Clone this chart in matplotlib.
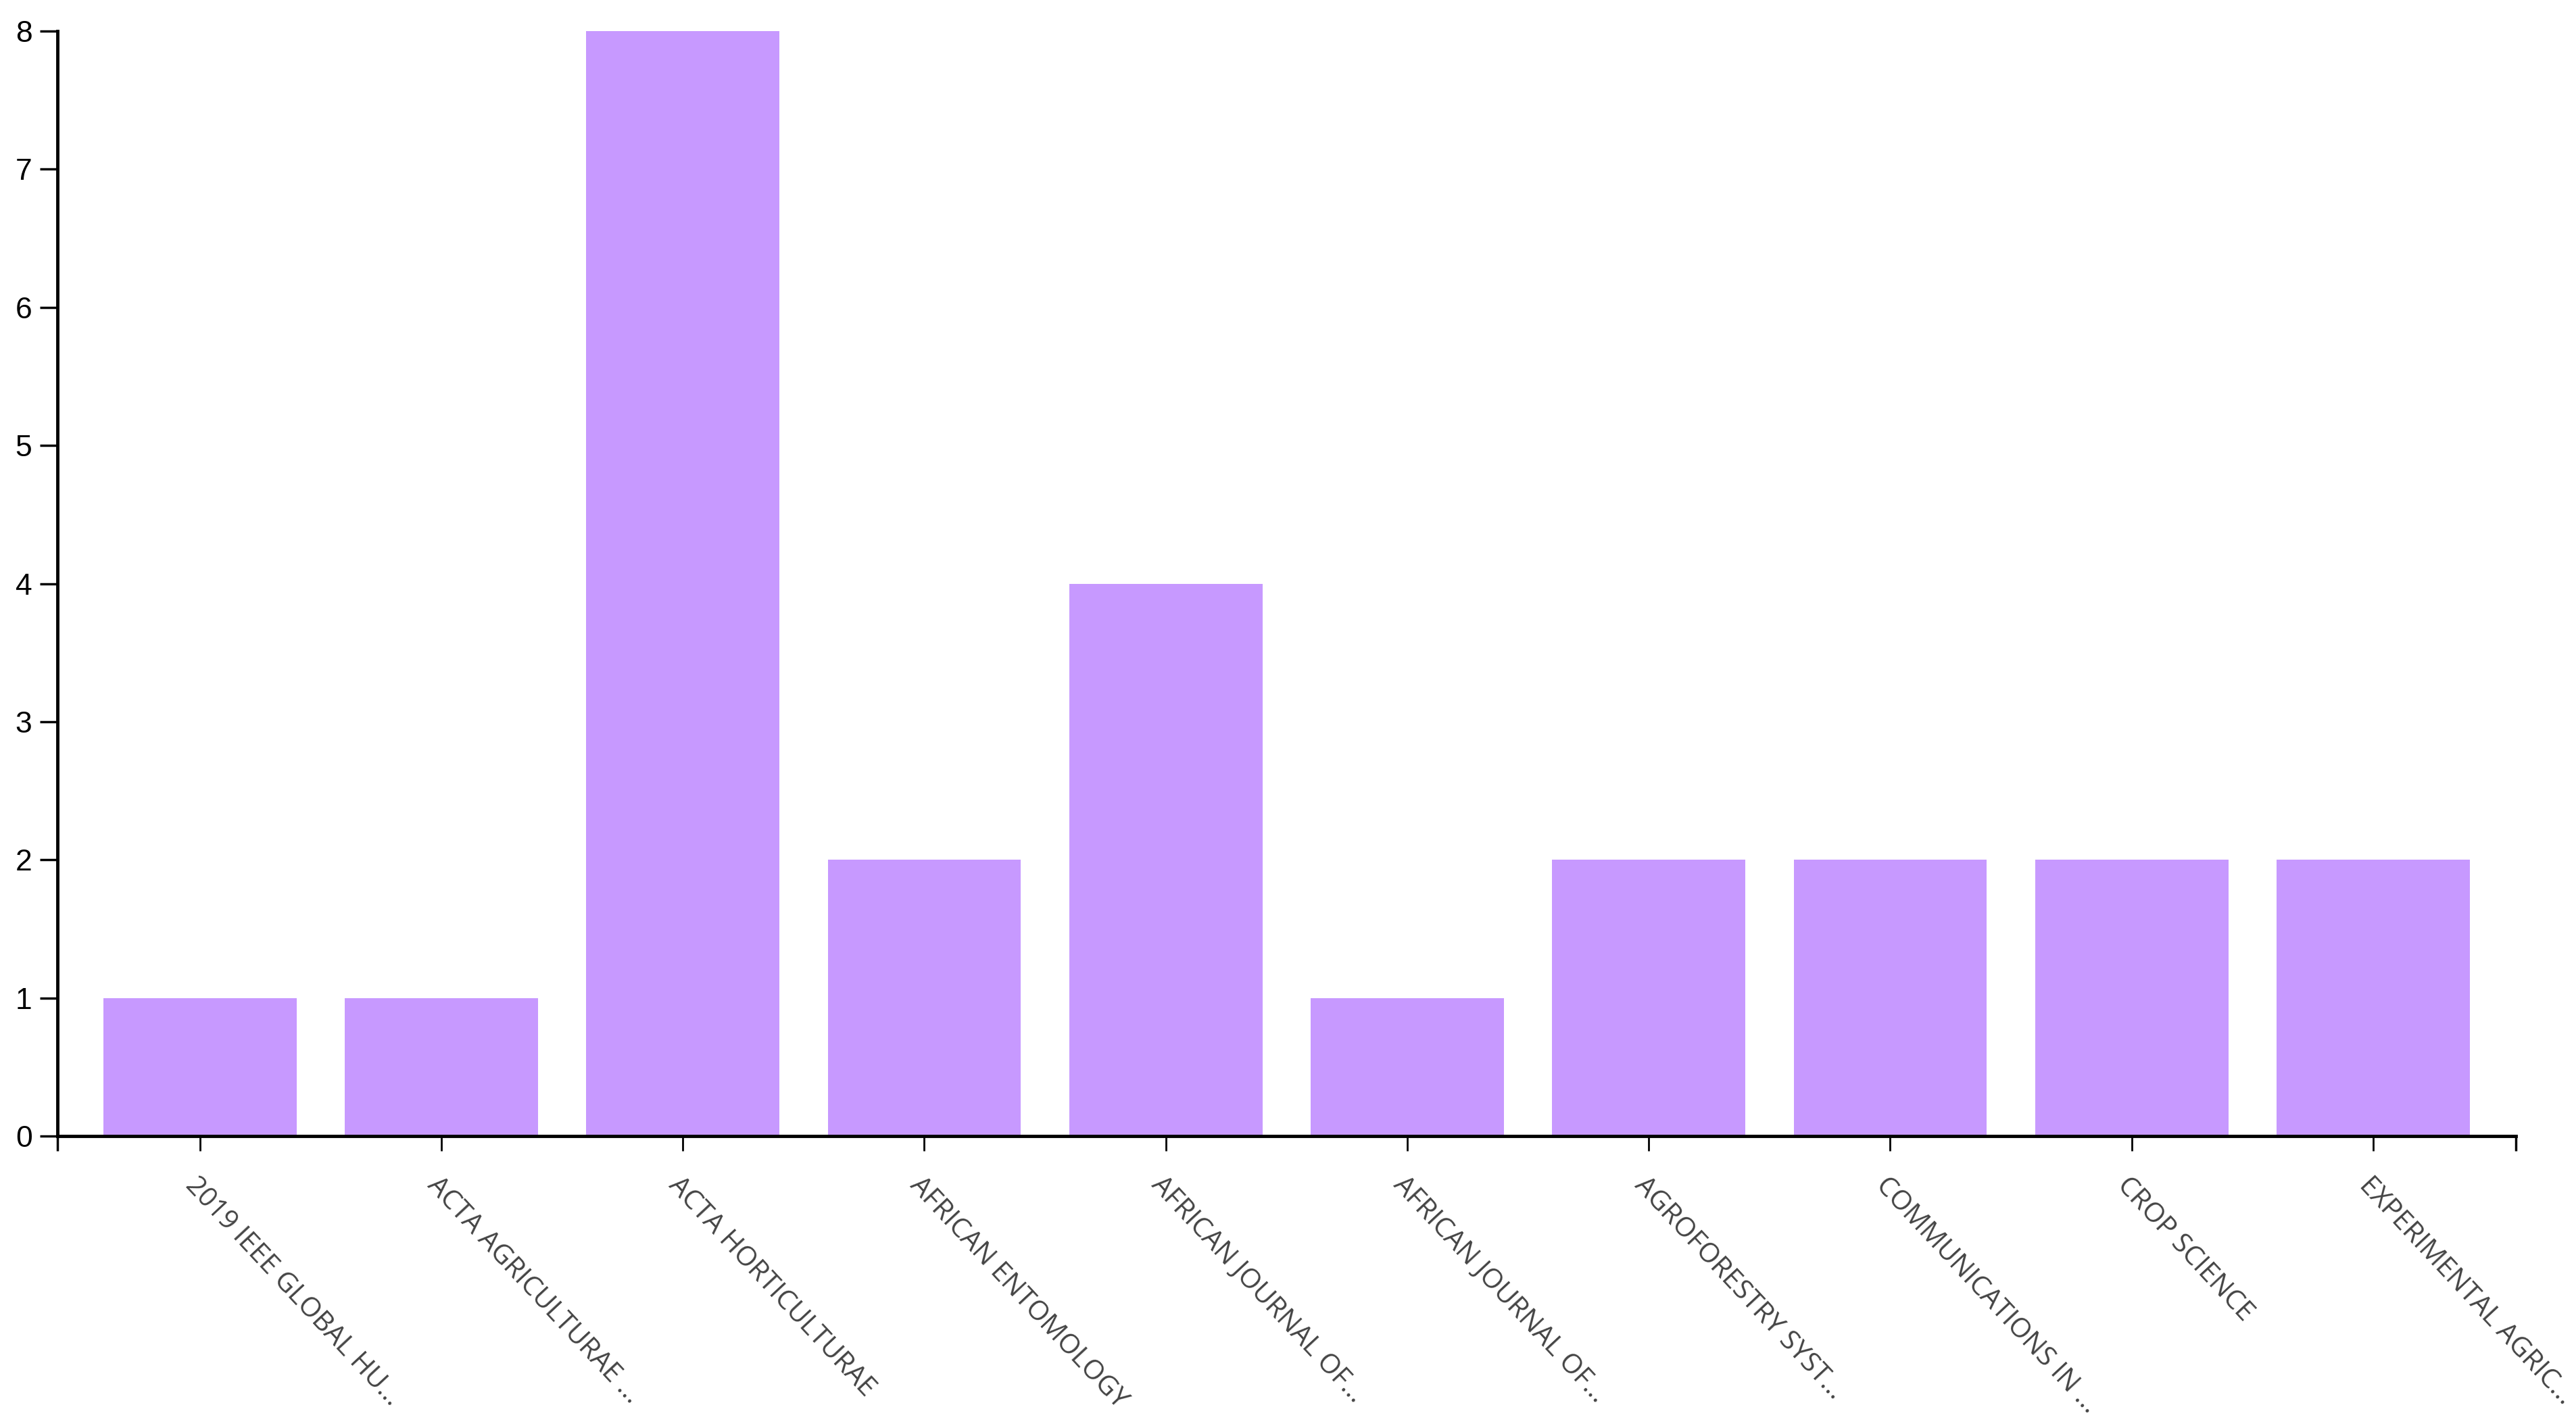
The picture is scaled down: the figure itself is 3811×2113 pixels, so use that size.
import numpy as np
import matplotlib
matplotlib.use('Agg')
import matplotlib.pyplot as plt

# journal counts
journals = ['2019 IEEE GLOBAL HU...', 'ACTA AGRICULTURAE ...', 'ACTA HORTICULTURAE',
            'AFRICAN ENTOMOLOGY', 'AFRICAN JOURNAL OF...', 'AFRICAN JOURNAL OF...',
            'AGROFORESTRY SYST...', 'COMMUNICATIONS IN ...', 'CROP SCIENCE',
            'EXPERIMENTAL AGRIC...']
counts = [1, 1, 8, 2, 4, 1, 2, 2, 2, 2]
y_ticks = [0, 1, 2, 3, 4, 5, 6, 7, 8]

fig = plt.figure(figsize=(38.12, 21.13), dpi=100)
ax = fig.add_axes([0.0223, 0.2044, 0.9540, 0.7738])

x = np.arange(len(journals))
ax.bar(x, counts, width=0.8, color='#c799ff', zorder=1)

pad = 0.59
ax.set_xlim(-pad, len(journals) - 1 + pad)
ax.set_ylim(0, 8)

for s in ['top', 'right']:
    ax.spines[s].set_visible(False)
for s in ['left', 'bottom']:
    ax.spines[s].set_linewidth(3.5)
    ax.spines[s].set_color('black')
    ax.spines[s].set_zorder(3)

ax.set_yticks(y_ticks)
ax.set_yticklabels([str(v) for v in y_ticks], fontsize=32, family='Liberation Sans')
ax.tick_params(axis='y', length=19, width=2.5, pad=8, colors='black')

ax.set_xticks(x)
ax.set_xticklabels(journals, rotation=-47, ha='left', va='top',
                   rotation_mode='anchor', fontsize=29, family='Open Sans',
                   color='#444444')
ax.tick_params(axis='x', length=16, width=2, pad=22)

# outer ticks at both ends of x axis
ax.set_xticks([-pad, len(journals) - 1 + pad], minor=True)
ax.tick_params(axis='x', which='minor', length=16, width=2.5)

fig.savefig('out.png', dpi=100, facecolor='white')
